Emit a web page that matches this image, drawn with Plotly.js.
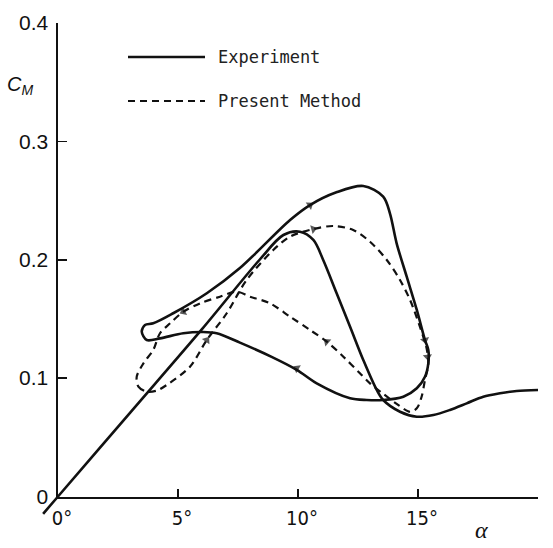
<!DOCTYPE html>
<html>
<head>
<meta charset="utf-8">
<script src="https://cdn.plot.ly/plotly-3.0.1.min.js"></script>
<style>html,body{margin:0;padding:0;background:#fff;}#chart{width:553px;height:548px;}</style>
</head>
<body>
<div id="chart"></div>
<script>
// ---- data (angle of attack alpha in degrees, moment coefficient C_M) ----
const xTickVals = [0, 5, 10, 15, 20];
const xTickText = ["0°", "5°", "10°", "15°", "20°"];
const yTickVals = [0, 0.1, 0.2, 0.3, 0.4];
const yTickText = ["0", "0.1", "0.2", "0.3", "0.4"];

// Experiment: static-like branch (straight line, peak near 10°, drop, tail to 20°)
const expStaticAlpha = [-0.62, 0, 3, 6, 8.4, 9.39, 10.08, 10.64, 11.05, 11.61, 12.17, 12.72, 13.28, 13.55, 14.25, 14.95, 15.64, 16.33, 17.03, 17.72, 18.42, 19.11, 20.0];
const expStaticCm    = [-0.0146, 0, 0.0707, 0.1414, 0.2000, 0.2209, 0.2237, 0.2167, 0.1998, 0.1717, 0.1434, 0.1153, 0.0900, 0.0815, 0.0716, 0.0674, 0.0688, 0.0731, 0.0787, 0.0843, 0.0872, 0.0891, 0.0900];

// Experiment: hysteresis loop
const expLoopAlpha = [3.49, 3.625, 3.97, 4.80, 6.20, 7.58, 9.67, 10.5, 11.6, 12.72, 13.55, 13.83, 14.11, 14.53, 14.95, 15.29, 15.43, 15.43, 15.29, 14.95, 14.39, 13.55, 12.86, 12.17, 10.78, 9.95, 8.9, 7.58, 6.61, 6.05, 5.22, 4.25, 3.70, 3.49];
const expLoopCm    = [0.1392, 0.1449, 0.1463, 0.1548, 0.1717, 0.1930, 0.2336, 0.2462, 0.2570, 0.2623, 0.2533, 0.2392, 0.2139, 0.1857, 0.1576, 0.1322, 0.1238, 0.1125, 0.1012, 0.0914, 0.0843, 0.0815, 0.0815, 0.0830, 0.0956, 0.1070, 0.1180, 0.1300, 0.1379, 0.1390, 0.1379, 0.1336, 0.1322, 0.1392];

// Present Method: figure-eight loop
const pmAlpha = [3.28, 3.35, 3.70, 4.11, 4.53, 5.5, 6.20, 7.03, 7.86, 8.97, 9.67, 10.64, 11.47, 12.3, 13.0, 13.7, 14.25, 14.67, 15.08, 15.36, 15.43, 15.29, 15.15, 14.95, 14.67, 14.2, 13.6, 13.0, 12.58, 11.89, 11.2, 10.5, 9.67, 8.83, 8.0, 7.44, 6.75, 5.92, 5.22, 4.67, 4.25, 3.97, 3.56, 3.28];
const pmCm    = [0.1012, 0.0928, 0.0885, 0.0894, 0.0942, 0.1097, 0.1322, 0.1548, 0.1829, 0.2082, 0.2195, 0.2259, 0.2285, 0.2251, 0.2152, 0.1998, 0.1829, 0.1660, 0.1434, 0.1250, 0.1120, 0.0984, 0.0843, 0.0745, 0.0716, 0.0770, 0.0860, 0.0956, 0.1041, 0.1181, 0.1308, 0.1407, 0.1519, 0.1632, 0.1688, 0.1730, 0.1688, 0.1632, 0.1561, 0.1463, 0.1379, 0.1238, 0.1125, 0.1012];

// direction arrows on the curves: a point just behind each head, then the head
const arrowTailAlpha = [10.1, 10.4, 15.15, 10.2, 15.36, 11.6, 5.95, 5.6];
const arrowTailCm    = [0.2405, 0.1030, 0.1440, 0.2235, 0.1260, 0.1240, 0.1250, 0.1600];
const arrowHeadAlpha = [10.5, 9.95, 15.29, 10.64, 15.40, 11.2, 6.20, 5.22];
const arrowHeadCm    = [0.2462, 0.1083, 0.1322, 0.2259, 0.1180, 0.1308, 0.1322, 0.1561];

const legendNames = ["Experiment", "Present Method"];

// ---- layout geometry ----
const W = 553, H = 548;
const M = {l: 30, r: 15, t: 23, b: 30};
const pw = W - M.l - M.r, ph = H - M.t - M.b;
const axLeftPx = 58, axBottomPx = 496.5;   // pixel of alpha=0 and Cm=0
const pxPerDeg = (W - M.r - axLeftPx) / 20;
const pxPerCm = (axBottomPx - M.t) / 0.4;
const xDomStart = (axLeftPx - M.l) / pw;
const yDomStart = (H - M.b - axBottomPx) / ph;
const x2min = -(axLeftPx - M.l) / pxPerDeg;
const y2min = -(H - M.b - axBottomPx) / pxPerCm;
const px2paperX = p => (p - M.l) / pw;
const px2paperY = p => (H - M.b - p) / ph;

const solid = {color: '#111', width: 2.6, shape: 'spline', smoothing: 0.9};
const dashed = {color: '#111', width: 2.2, dash: '7px,5px', shape: 'spline', smoothing: 0.9};

const traces = [
  {x: expStaticAlpha, y: expStaticCm, xaxis: 'x2', yaxis: 'y2', mode: 'lines', line: solid, name: legendNames[0], showlegend: false, hoverinfo: 'skip'},
  {x: expLoopAlpha, y: expLoopCm, xaxis: 'x2', yaxis: 'y2', mode: 'lines', line: solid, name: legendNames[0], showlegend: false, hoverinfo: 'skip'},
  {x: pmAlpha, y: pmCm, xaxis: 'x2', yaxis: 'y2', mode: 'lines', line: dashed, name: legendNames[1], showlegend: false, hoverinfo: 'skip'},
  {x: [0, 20], y: [0, 0.4], xaxis: 'x', yaxis: 'y', mode: 'markers', marker: {opacity: 0}, showlegend: false, hoverinfo: 'skip'}
];
arrowHeadAlpha.forEach((a, i) => {
  traces.push({
    x: [arrowTailAlpha[i], a], y: [arrowTailCm[i], arrowHeadCm[i]],
    xaxis: 'x2', yaxis: 'y2', mode: 'markers', showlegend: false, hoverinfo: 'skip',
    marker: {symbol: 'triangle-up', angleref: 'previous', size: [0, 8], color: '#111', line: {width: 0}}
  });
});

const legendFont = {family: 'DejaVu Sans Mono, Liberation Mono, monospace', size: 17, color: '#222'};
const annotations = [
  {xref: 'paper', yref: 'paper', x: px2paperX(216), y: px2paperY(57), xanchor: 'left', yanchor: 'middle', text: legendNames[0], showarrow: false, font: legendFont},
  {xref: 'paper', yref: 'paper', x: px2paperX(216), y: px2paperY(101), xanchor: 'left', yanchor: 'middle', text: legendNames[1], showarrow: false, font: legendFont},
  {xref: 'paper', yref: 'paper', x: px2paperX(20), y: px2paperY(85), xanchor: 'center', yanchor: 'middle', text: '<i>C<sub>M</sub></i>', showarrow: false, font: {family: 'Liberation Sans, Arial, sans-serif', size: 20, color: '#111'}},
  {xref: 'paper', yref: 'paper', x: px2paperX(481), y: px2paperY(530), xanchor: 'center', yanchor: 'middle', text: '<i>α</i>', showarrow: false, font: {family: 'Liberation Serif, DejaVu Serif, serif', size: 24, color: '#111'}}
];

const shapes = [
  {type: 'line', xref: 'paper', yref: 'paper', x0: px2paperX(128), x1: px2paperX(205), y0: px2paperY(57), y1: px2paperY(57), line: {color: '#111', width: 2.6}},
  {type: 'line', xref: 'paper', yref: 'paper', x0: px2paperX(128), x1: px2paperX(205), y0: px2paperY(101), y1: px2paperY(101), line: {color: '#111', width: 2.2, dash: '7px,5px'}}
];

const layout = {
  width: W, height: H,
  margin: M,
  paper_bgcolor: '#fff', plot_bgcolor: 'rgba(0,0,0,0)',
  showlegend: false,
  xaxis: {domain: [xDomStart, 1], range: [0, 20], anchor: 'y', showline: true, linewidth: 2.5, linecolor: '#111',
          ticks: 'inside', ticklen: 8, tickwidth: 1.5, tickcolor: '#111', tickvals: xTickVals, ticktext: xTickText,
          showgrid: false, zeroline: false, fixedrange: true, ticklabelshift: 4, ticklabelstandoff: 2,
          tickfont: {family: 'Liberation Sans Narrow, DejaVu Sans Condensed, sans-serif', size: 20, color: '#111'}},
  yaxis: {domain: [yDomStart, 1], range: [0, 0.4], anchor: 'x', showline: true, linewidth: 2.5, linecolor: '#111',
          ticks: 'inside', ticklen: 9, tickwidth: 1.5, tickcolor: '#111', tickvals: yTickVals, ticktext: yTickText,
          showgrid: false, zeroline: false, fixedrange: true, ticklabelstandoff: 3,
          tickfont: {family: 'Liberation Sans, Arial, sans-serif', size: 21, color: '#111'}},
  xaxis2: {domain: [0, 1], range: [x2min, 20], anchor: 'y2', visible: false, fixedrange: true},
  yaxis2: {domain: [0, 1], range: [y2min, 0.4], anchor: 'x2', visible: false, fixedrange: true},
  annotations: annotations,
  shapes: shapes
};

Plotly.newPlot('chart', traces, layout, {displayModeBar: false, staticPlot: true});
</script>
</body>
</html>
